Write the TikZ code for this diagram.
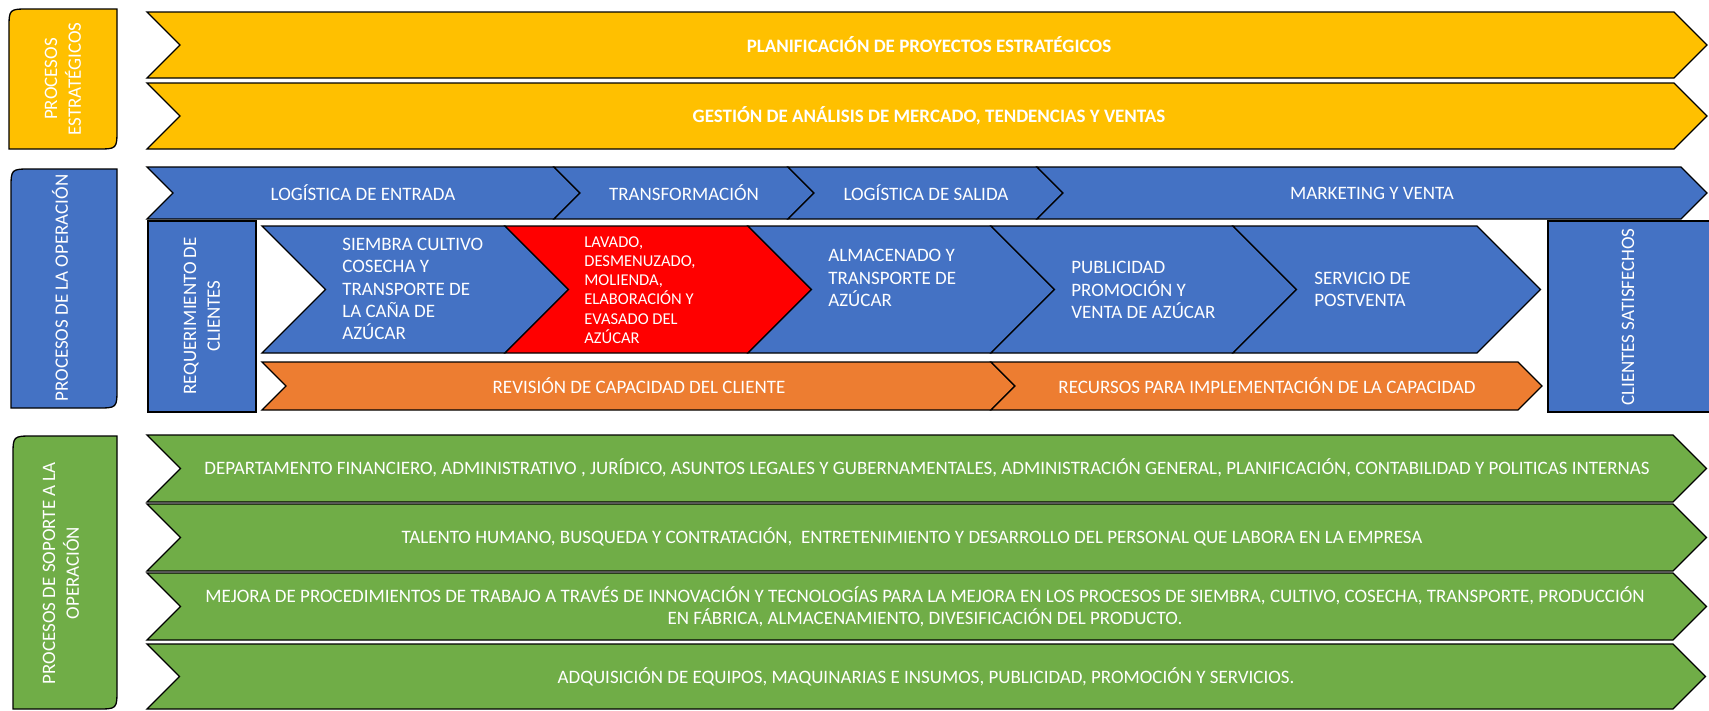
\documentclass[tikz,border=0pt]{standalone}
\usepackage{fontspec}
\setmainfont{Carlito}
\usepackage{tikz}
\usetikzlibrary{positioning,calc}

\definecolor{stgold}{HTML}{FFC000}
\definecolor{opblue}{HTML}{4472C4}
\definecolor{oporange}{HTML}{ED7D31}
\definecolor{supgreen}{HTML}{70AD47}
\definecolor{hotred}{HTML}{FF0000}

% chevron from x1 to x2 (straight part), y1 to y2, notch and tip = half height
\newcommand{\chevr}[5]{%
  \filldraw[shp, fill=#5] (#1,#2) -- (#3,#2) -- ({#3+(#4-#2)/2},{(#2+#4)/2})
    -- (#3,#4) -- (#1,#4) -- ({#1+(#4-#2)/2},{(#2+#4)/2}) -- cycle;}
% side box, rounded at top left and bottom right
\newcommand{\sidebox}[5]{%
  \filldraw[shp, fill=#5] (#1,#4) -- ({#1},{#2+20}) .. controls (#1,#2) .. ({#1+20},{#2})
    -- (#3,#2) -- ({#3},{#4-20}) .. controls (#3,#4) .. ({#3-20},{#4}) -- cycle;}

\begin{document}
\begin{tikzpicture}[x=0.02cm, y=-0.02cm,
    shp/.style={draw=black, line width=0.75pt, line join=miter},
    lbl/.style={text=white, inner sep=0pt, font=\fontsize{10.8}{12.6}\selectfont},
    hd/.style={lbl, font=\fontsize{10.8}{12.6}\selectfont\bfseries},
    blk/.style={lbl, anchor=west, align=left},
    small/.style={blk, font=\fontsize{9.4}{10.9}\selectfont},
    vlbl/.style={lbl, rotate=90, align=center, font=\fontsize{10.8}{13.5}\selectfont}]
    \useasboundingbox (0,0) rectangle (1709,710);

    % Procesos estrategicos
    \sidebox{9}{9}{117}{149}{stgold}
    \chevr{147}{12}{1674}{78}{stgold}
    \chevr{147}{83}{1674}{149}{stgold}
    \node [vlbl] (estr) at (63,79) {PROCESOS\\ESTRATÉGICOS};
    \node [hd] (plan) at (929,45) {PLANIFICACIÓN DE PROYECTOS ESTRATÉGICOS};
    \node [hd] (gest) at (929,116) {GESTIÓN DE ANÁLISIS DE MERCADO, TENDENCIAS Y VENTAS};

    % Procesos de la operacion
    \sidebox{11}{169}{117}{408}{opblue}
    \node [vlbl] (oper) at (60,288) {PROCESOS DE LA OPERACIÓN};
    \chevr{147}{167}{554}{219}{opblue}
    \chevr{554}{167}{788}{219}{opblue}
    \chevr{788}{167}{1037}{219}{opblue}
    \chevr{1037}{167}{1681}{219}{opblue}
    \node [lbl] (entrada) at (363,193) {LOGÍSTICA DE ENTRADA};
    \node [lbl] (transf) at (684,193) {TRANSFORMACIÓN};
    \node [lbl] (salida) at (926,193) {LOGÍSTICA DE SALIDA};
    \node [lbl] (mkt) at (1372,193) {MARKETING Y VENTA};

    \filldraw [shp, fill=opblue] (148,221) rectangle (256,412);
    \node [vlbl] (req) at (202,316) {REQUERIMIENTO DE\\CLIENTES};
    \filldraw [shp, fill=opblue] (1548,221) rectangle (1715,412);
    \node [vlbl] (cli) at (1628,317) {CLIENTES SATISFECHOS};

    % Cadena de valor
    \chevr{262}{226}{505}{353}{opblue}
    \chevr{505}{226}{748}{353}{hotred}
    \chevr{748}{226}{991}{353}{opblue}
    \chevr{991}{226}{1233}{353}{opblue}
    \chevr{1233}{226}{1477}{353}{opblue}
    \node [blk] (siembra) at (342,289) {SIEMBRA CULTIVO\\COSECHA Y\\TRANSPORTE DE\\LA CAÑA DE\\AZÚCAR};
    \node [small] (lavado) at (584,290) {LAVADO,\\DESMENUZADO,\\MOLIENDA,\\ELABORACIÓN Y\\EVASADO DEL\\AZÚCAR};
    \node [blk] (almac) at (828,278) {ALMACENADO Y\\TRANSPORTE DE\\AZÚCAR};
    \node [blk] (public) at (1071,290) {PUBLICIDAD\\PROMOCIÓN Y\\VENTA DE AZÚCAR};
    \node [blk] (postv) at (1314,289) {SERVICIO DE\\POSTVENTA};

    \chevr{262}{362}{991}{410}{oporange}
    \chevr{991}{362}{1518}{410}{oporange}
    \node [lbl] (revis) at (639,386) {REVISIÓN DE CAPACIDAD DEL CLIENTE};
    \node [lbl] (recur) at (1267,386) {RECURSOS PARA IMPLEMENTACIÓN DE LA CAPACIDAD};

    % Procesos de soporte
    \sidebox{13}{436}{117}{709}{supgreen}
    \node [vlbl] (sop) at (61,573) {PROCESOS DE SOPORTE A LA\\OPERACIÓN};
    \chevr{147}{435}{1673}{502}{supgreen}
    \chevr{147}{504}{1673}{571}{supgreen}
    \chevr{147}{573}{1673}{640}{supgreen}
    \chevr{147}{644}{1673}{709}{supgreen}
    \node [lbl] (depto) at (927,468) {DEPARTAMENTO FINANCIERO, ADMINISTRATIVO , JURÍDICO, ASUNTOS LEGALES Y GUBERNAMENTALES, ADMINISTRACIÓN GENERAL, PLANIFICACIÓN, CONTABILIDAD Y POLITICAS INTERNAS};
    \node [lbl] (talento) at (912,537) {TALENTO HUMANO, BUSQUEDA Y CONTRATACIÓN,\ \ ENTRETENIMIENTO Y DESARROLLO DEL PERSONAL QUE LABORA EN LA EMPRESA};
    \node [lbl, align=center] (mejora) at (925,607) {MEJORA DE PROCEDIMIENTOS DE TRABAJO A TRAVÉS DE INNOVACIÓN Y TECNOLOGÍAS PARA LA MEJORA EN LOS PROCESOS DE SIEMBRA, CULTIVO, COSECHA, TRANSPORTE, PRODUCCIÓN\\EN FÁBRICA, ALMACENAMIENTO, DIVESIFICACIÓN DEL PRODUCTO.};
    \node [lbl] (adqui) at (926,677) {ADQUISICIÓN DE EQUIPOS, MAQUINARIAS E INSUMOS, PUBLICIDAD, PROMOCIÓN Y SERVICIOS.};
\end{tikzpicture}
\end{document}
